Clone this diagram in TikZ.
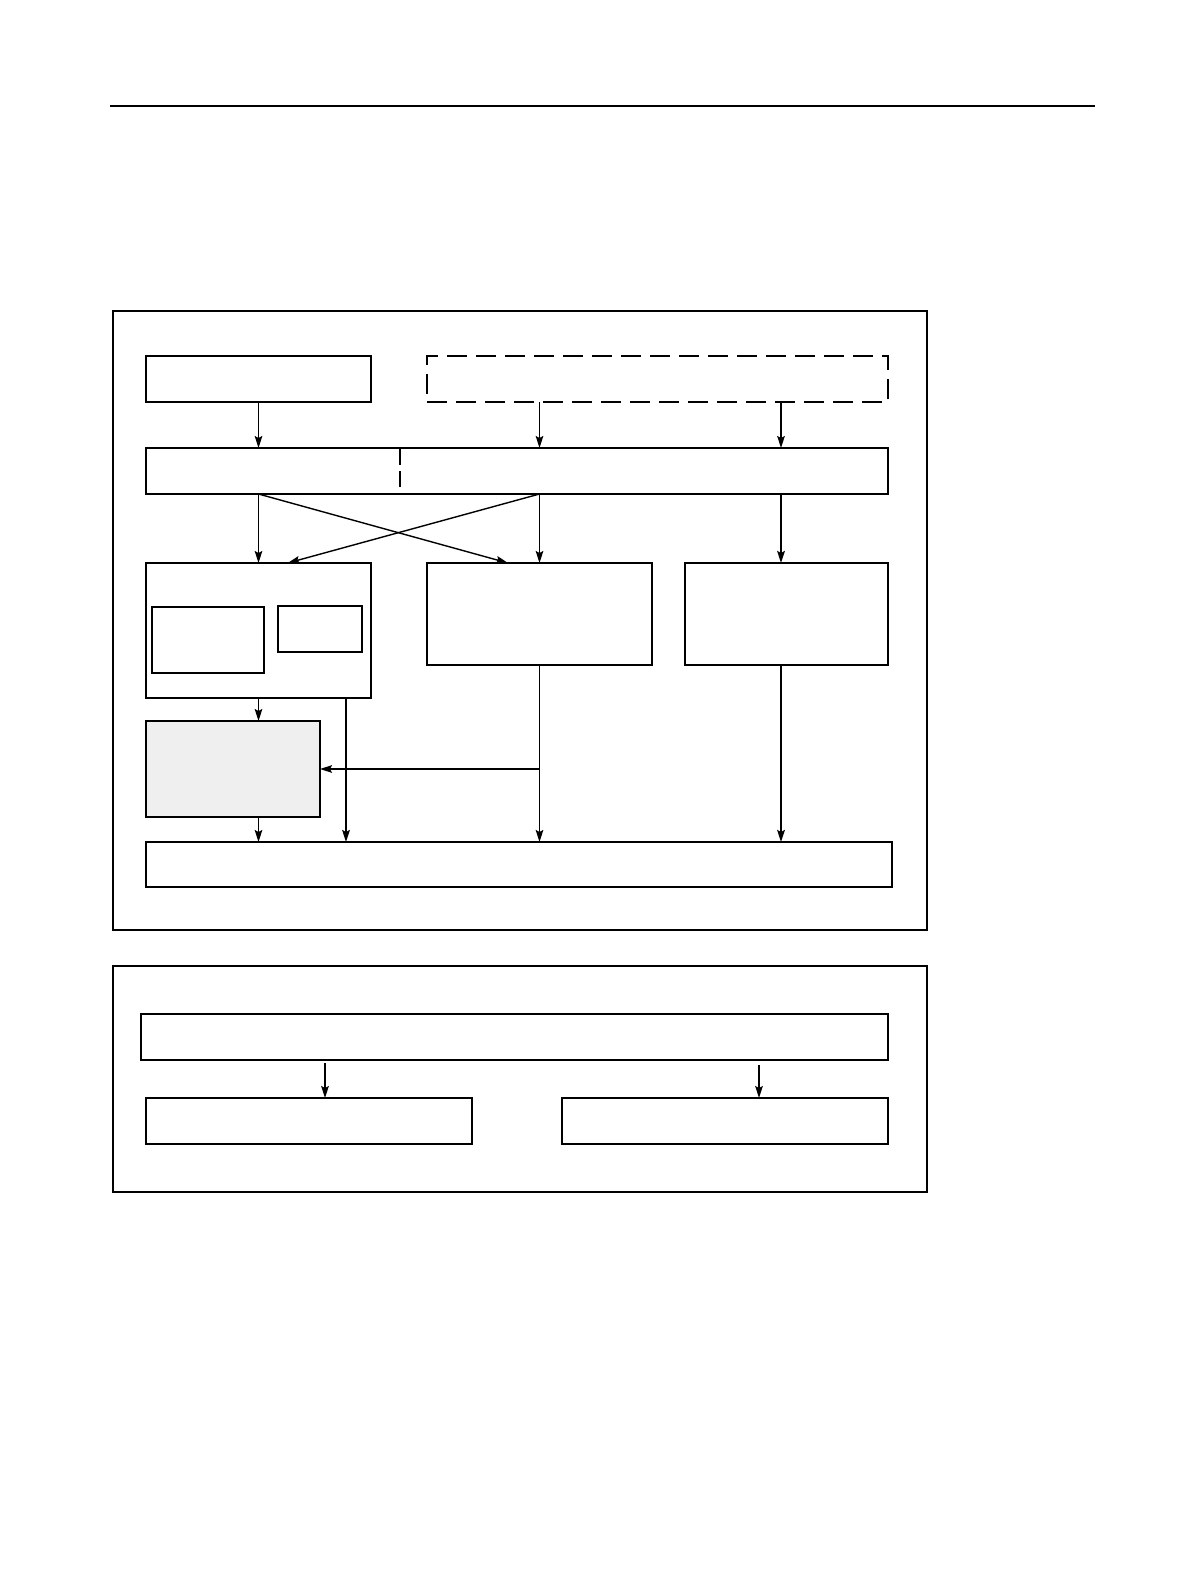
\documentclass[tikz,border=0pt]{standalone}
\usepackage{xcolor}
\usetikzlibrary{arrows.meta,positioning,fit,calc}
\definecolor{shade}{HTML}{EFEFEF}
\begin{document}
\begin{tikzpicture}[y=-0.5pt,x=0.5pt,
	box/.style={draw, line width=1pt, inner sep=0pt, outer sep=0pt},
	thinbox/.style={draw, line width=0.6pt, inner sep=0pt, outer sep=0pt},
	frame/.style={draw, line width=0.8pt, inner sep=0pt, outer sep=0pt},
	arr/.style={-{Stealth[length=6pt,width=3.8pt,inset=1pt]}, line width=0.7pt}]
	\useasboundingbox (0,0) rectangle (1190,1584);

	\draw[line width=1pt] (110,106) -- (1095,106);

	\node[frame, fit={(113,311) (927,930)}] (frameTop) {};
	\node[frame, fit={(113,966) (927,1192)}] (frameBot) {};

	\node[box, fit={(146,356) (371,402)}] (src) {};
	\node[box, dash pattern=on 10pt off 4.5pt, fit={(427,356) (888,402)}] (ext) {};
	\node[box, fit={(146,448) (888,494)}] (bus) {};
	\draw[line width=0.6pt, dash pattern=on 8pt off 3pt] (400,449) -- (400,488);

	\node[box, fit={(146,563) (371,698)}] (ctrl) {};
	\node[box, fit={(152,607) (264,673)}] (ctrlA) {};
	\node[thinbox, fit={(278,606) (362,652)}] (ctrlB) {};
	\node[box, fit={(427,563) (652,665)}] (mid) {};
	\node[box, fit={(685,563) (888,665)}] (side) {};

	\node[box, fill=shade, fit={(146,721) (320,817)}] (buf) {};
	\node[box, fit={(146,842) (892,887)}] (out) {};

	\node[thinbox, fit={(141,1014) (888,1060)}] (host) {};
	\node[thinbox, fit={(146,1098) (472,1144)}] (hostL) {};
	\node[thinbox, fit={(562,1098) (888,1144)}] (hostR) {};

	\coordinate (colR) at (781,0);
	\coordinate (colD) at (346,0);
	\coordinate (tapL) at (325,1063);
	\coordinate (tapR) at (759,1065);

	\draw[arr] (src.south) -- (src.south |- bus.north);
	\draw[arr] (ext.south -| mid.north) -- (mid.north |- bus.north);
	\draw[arr] (ext.south -| colR) -- (bus.north -| colR);

	\draw[arr] (bus.south -| src.south) -- (ctrl.north);
	\draw[arr] (bus.south -| src.south) -- ($(mid.north west)!0.36!(mid.north east)$);
	\draw[arr] (bus.south -| mid.north) -- ($(ctrl.north west)!0.63!(ctrl.north east)$);
	\draw[arr] (bus.south -| mid.north) -- (mid.north);
	\draw[arr, line width=1pt] (bus.south -| colR) -- (side.north -| colR);

	\draw[arr] (ctrl.south -| src.south) -- (buf.north -| src.south);
	\draw[arr, line width=1pt] (ctrl.south -| colD) -- (out.north -| colD);
	\draw[arr] (buf.south -| src.south) -- (out.north -| src.south);
	\draw[arr] (mid.south) -- (mid.south |- out.north);
	\draw[arr] (mid.south |- buf.east) -- (buf.east);
	\draw[arr, line width=1pt] (side.south -| colR) -- (out.north -| colR);

	\draw[arr] (tapL) -- (tapL |- hostL.north);
	\draw[arr] (tapR) -- (tapR |- hostR.north);
\end{tikzpicture}
\end{document}
